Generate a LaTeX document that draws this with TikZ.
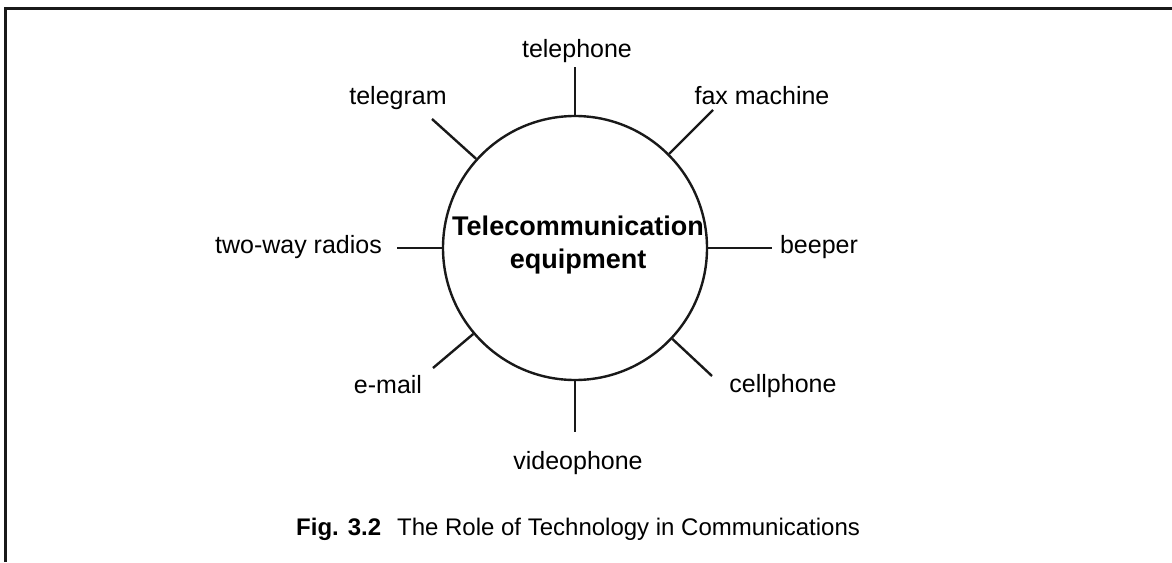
\documentclass[tikz,border=0pt]{standalone}
\usepackage{fontspec}
\setmainfont{Liberation Sans}
\begin{document}
\begin{tikzpicture}[x=1pt,y=-1pt,
  lbl/.style={anchor=base,inner sep=0pt,font=\fontsize{25}{30}\selectfont},
  spoke/.style={line width=2.4pt,draw=black!90},
  hub/.style={circle,draw=black!90,line width=2.4pt,minimum size=264pt,inner sep=0pt}]
\useasboundingbox (0,0) rectangle (1172,562);
\fill[white] (0,0) rectangle (1172,562);
% frame (top and left sides visible)
\draw[line width=3pt,black!90] (5,562) -- (5,8) -- (1172,8);
% hub
\node[hub] (c) at (575,248) {};
\node[inner sep=0pt,align=center,font=\fontsize{27}{33}\selectfont\bfseries] (ct) at (578,245) {Telecommunication\\equipment};
% spoke ends
\coordinate (e1) at (575,67);
\coordinate (e2) at (713,110);
\coordinate (e3) at (772,248);
\coordinate (e4) at (712,376);
\coordinate (e5) at (575,432);
\coordinate (e6) at (433,368);
\coordinate (e7) at (397,248);
\coordinate (e8) at (432,119);
\foreach \i in {1,...,8} {\draw[spoke] (c) -- (e\i);}
% labels
\node[lbl] (l1) at (577,57) {telephone};
\node[lbl] (l2) at (762,104) {fax machine};
\node[lbl] (l3) at (819,253) {beeper};
\node[lbl] (l4) at (783,392) {cellphone};
\node[lbl] (l5) at (578,469) {videophone};
\node[lbl] (l6) at (388,393) {e-mail};
\node[lbl] (l7) at (298.5,253) {two-way radios};
\node[lbl] (l8) at (398,104) {telegram};
% caption
\node[anchor=base west,inner sep=0pt,font=\fontsize{24}{28}\selectfont] (cap) at (296,535)
  {\textbf{Fig. 3.2}\hspace{16pt}The Role of Technology in Communications};
\end{tikzpicture}
\end{document}
